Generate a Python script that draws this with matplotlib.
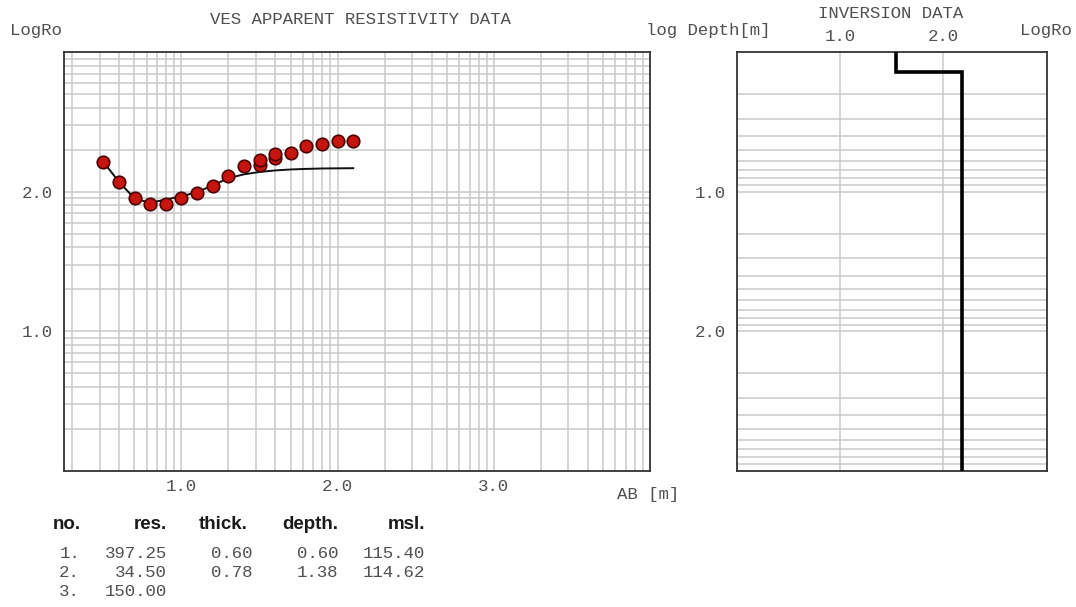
import numpy as np
import matplotlib.pyplot as plt

# sounding curve: log10(AB/2) and log10 of measured apparent resistivity
ab_log = [0.5, 0.6, 0.7, 0.8, 0.9, 1.0, 1.1, 1.2, 1.3, 1.4,
          1.5, 1.5, 1.6, 1.6, 1.7, 1.8, 1.9, 2.0, 2.1]
rho_log = [2.214, 2.071, 1.952, 1.911, 1.911, 1.956, 1.992, 2.040, 2.112, 2.186,
           2.191, 2.226, 2.239, 2.274, 2.279, 2.327, 2.346, 2.362, 2.365]

# calculated response of the layered model
fit_ab_log = [0.5, 0.6, 0.7, 0.8, 0.9, 1.0, 1.1, 1.2, 1.3, 1.4,
              1.5, 1.6, 1.7, 1.8, 1.9, 2.0, 2.1]
fit_rho_log = [2.214, 2.071, 1.952, 1.920, 1.945, 1.967, 1.998, 2.045, 2.097, 2.125,
               2.142, 2.153, 2.160, 2.164, 2.167, 2.168, 2.169]

# inversion result
layer_no = ["1.", "2.", "3."]
layer_res = [397.25, 34.50, 150.00]
layer_thick = [0.60, 0.78]
layer_depth = [0.60, 1.38]
layer_msl = [115.40, 114.62]

W, H = 1076, 607
MONO = "Liberation Mono"
FS = 12.5
TXT = "#505050"
GRID = "#c9c9c9"
FRAME = "#333333"

fig = plt.figure(figsize=(W / 100, H / 100), dpi=100)


def fx(x):
    return x / W


def fy(y):
    return 1 - y / H


def log_lines(lo, hi):
    out = []
    for n in range(-1, 5):
        for k in range(1, 10):
            v = n + np.log10(k)
            if lo < v < hi:
                out.append(v)
    return out


def style(ax):
    for s in ax.spines.values():
        s.set_color(FRAME)
        s.set_linewidth(1.3)
    ax.tick_params(which="both", length=0, labelsize=FS, labelcolor=TXT)
    for lab in ax.get_xticklabels() + ax.get_yticklabels():
        lab.set_family(MONO)


# ---- apparent resistivity plot ----
ax1 = fig.add_axes([fx(64.3), fy(470.7), fx(650 - 64.3), (470.7 - 52.3) / H])
ax1.set_xlim(0.25, 4.0)
ax1.set_ylim(0, 3)
ax1.set_xticks(log_lines(0.25, 4.0), minor=True)
ax1.set_yticks(log_lines(0, 3), minor=True)
ax1.set_xticks([1, 2, 3], ["1.0", "2.0", "3.0"])
ax1.set_yticks([1, 2], ["1.0", "2.0"])
ax1.grid(which="both", color=GRID, lw=1.1)
ax1.set_axisbelow(True)
ax1.tick_params(axis="x", pad=6)
ax1.tick_params(axis="y", pad=8)
style(ax1)

ax1.plot(fit_ab_log, fit_rho_log, color="#111111", lw=1.4, zorder=3)
ax1.plot(ab_log, rho_log, "o", ms=9, mfc="#c8140f", mec="#4a0000", mew=1.2, zorder=4)

fig.text(fx(10), fy(30), "LogRo", family=MONO, fontsize=FS, color=TXT, va="center")
fig.text(fx(360), fy(19), "VES APPARENT RESISTIVITY DATA", family=MONO, fontsize=FS,
         color=TXT, ha="center", va="center")
fig.text(fx(648), fy(494), "AB [m]", family=MONO, fontsize=FS, color=TXT,
         ha="center", va="center")

# ---- inversion model plot ----
ax2 = fig.add_axes([fx(736.7), fy(470.7), fx(1046.7 - 736.7), (470.7 - 52.3) / H])
ax2.set_xlim(0, 3)
ax2.set_ylim(3, 0)
ax2.set_yticks(log_lines(0, 3), minor=True)
ax2.set_xticks([1, 2], ["1.0", "2.0"])
ax2.set_yticks([1, 2], ["1.0", "2.0"])
ax2.xaxis.tick_top()
ax2.grid(which="major", axis="x", color=GRID, lw=1.1)
ax2.grid(which="both", axis="y", color=GRID, lw=1.1)
ax2.set_axisbelow(True)
ax2.tick_params(axis="x", pad=6)
ax2.tick_params(axis="y", pad=8)
style(ax2)

res_log = np.log10(layer_res)
dep_log = np.log10(layer_depth)
xs, ys = [], []
for i, r in enumerate(res_log):
    top = -1.0 if i == 0 else dep_log[i - 1]
    bot = dep_log[i] if i < len(dep_log) else 3.0
    xs += [r, r]
    ys += [top, bot]
ax2.plot(xs, ys, color="black", lw=2.6, solid_joinstyle="miter", zorder=3)

fig.text(fx(891), fy(13), "INVERSION DATA", family=MONO, fontsize=FS, color=TXT,
         ha="center", va="center")
fig.text(fx(770), fy(30), "log Depth[m]", family=MONO, fontsize=FS, color=TXT,
         ha="right", va="center")
fig.text(fx(1072), fy(30), "LogRo", family=MONO, fontsize=FS, color=TXT,
         ha="right", va="center")

# ---- layer table ----
head_x = [81, 167, 248, 338, 425]
col_x = [80, 167, 252, 338, 425]
for x, h in zip(head_x, ["no.", "res.", "thick.", "depth.", "msl."]):
    fig.text(fx(x), fy(529), h, family="Liberation Sans", weight="bold", fontsize=13.5,
             color="#1a1a1a", ha="right", va="baseline")

row_base = [558, 577, 596]
for i, no in enumerate(layer_no):
    cells = [no, f"{layer_res[i]:.2f}"]
    if i < len(layer_thick):
        cells += [f"{layer_thick[i]:.2f}", f"{layer_depth[i]:.2f}", f"{layer_msl[i]:.2f}"]
    for x, c in zip(col_x, cells):
        fig.text(fx(x), fy(row_base[i]), c, family=MONO, fontsize=FS, color=TXT,
                 ha="right", va="baseline")

fig.savefig("out.png", dpi=100)
